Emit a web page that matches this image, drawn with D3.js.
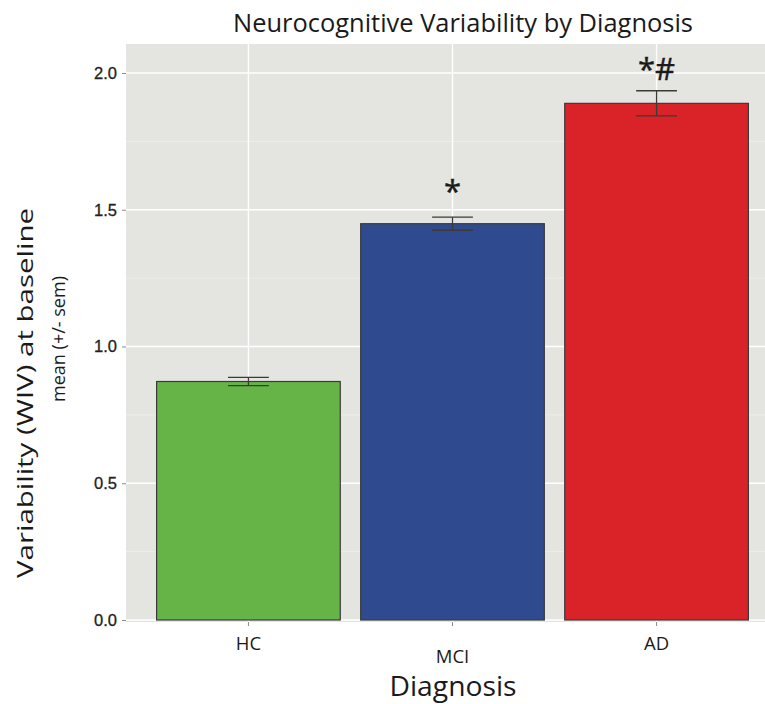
<!DOCTYPE html>
<html>
<head>
<meta charset="utf-8">
<script src="https://cdn.jsdelivr.net/npm/d3@7"></script>
<style>
  body { margin: 0; background: #fff; }
  svg { display: block; }
</style>
</head>
<body>
<svg width="765" height="704"></svg>
<script>
var svg = d3.select('svg')

// data
var groups = ['HC', 'MCI', 'AD']
var means = [0.872, 1.449, 1.889]
var sems = [0.015, 0.024, 0.046]
var marks = ['', '*', '*#']
var markY = [0, 1.53, 1.975]
var yTicks = [0, 0.5, 1, 1.5, 2]
var yMinor = [0.25, 0.75, 1.25, 1.75]
var colors = ['#66b447', '#2f4a8e', '#da2229']

var panel = { left: 126, right: 779, top: 44, bottom: 622 }

var x = d3.scaleBand()
  .domain(groups)
  .range([panel.left, panel.right])
  .paddingInner(0.1)
  .paddingOuter(0.15)

var y = d3.scaleLinear()
  .domain([-0.0073, 2.106])
  .range([panel.bottom, panel.top])

var font = '"Open Sans", sans-serif'

// panel background
svg.append('rect')
  .attr('x', panel.left)
  .attr('y', panel.top)
  .attr('width', panel.right - panel.left)
  .attr('height', panel.bottom - panel.top)
  .attr('fill', '#e4e4e0')

// grid
svg.selectAll('.minor')
  .data(yMinor)
  .enter()
  .append('line')
  .attr('x1', panel.left).attr('x2', panel.right)
  .attr('y1', function (d) { return y(d) })
  .attr('y2', function (d) { return y(d) })
  .style('stroke', '#efefec')
  .style('stroke-width', 0.8)

svg.selectAll('.major')
  .data(yTicks)
  .enter()
  .append('line')
  .attr('x1', panel.left).attr('x2', panel.right)
  .attr('y1', function (d) { return y(d) })
  .attr('y2', function (d) { return y(d) })
  .style('stroke', '#fff')
  .style('stroke-width', 1.4)

svg.selectAll('.vgrid')
  .data(groups)
  .enter()
  .append('line')
  .attr('x1', function (d) { return x(d) + x.bandwidth() / 2 })
  .attr('x2', function (d) { return x(d) + x.bandwidth() / 2 })
  .attr('y1', panel.top).attr('y2', panel.bottom)
  .style('stroke', '#fff')
  .style('stroke-width', 1.4)

// bars
svg.selectAll('.bar')
  .data(groups)
  .enter()
  .append('rect')
  .attr('x', function (d) { return x(d) })
  .attr('width', x.bandwidth())
  .attr('y', function (d, i) { return y(means[i]) })
  .attr('height', function (d, i) { return y(0) - y(means[i]) })
  .style('fill', function (d, i) { return colors[i] })
  .style('stroke', '#3a3a3a')
  .style('stroke-width', 1.2)

// error bars
var capW = x.step() * 0.2
groups.forEach(function (g, i) {
  var cx = x(g) + x.bandwidth() / 2
  var top = y(means[i] + sems[i])
  var bot = y(means[i] - sems[i])
  var eb = svg.append('g').style('stroke', '#3a3a3a').style('stroke-width', 1.3)
  eb.append('line').attr('x1', cx).attr('x2', cx).attr('y1', top).attr('y2', bot)
  eb.append('line').attr('x1', cx - capW / 2).attr('x2', cx + capW / 2).attr('y1', top).attr('y2', top)
  eb.append('line').attr('x1', cx - capW / 2).attr('x2', cx + capW / 2).attr('y1', bot).attr('y2', bot)
})

// significance marks
svg.selectAll('.mark')
  .data(groups)
  .enter()
  .append('text')
  .attr('x', function (d) { return x(d) + x.bandwidth() / 2 })
  .attr('y', function (d, i) { return y(markY[i]) })
  .attr('text-anchor', 'middle')
  .style('font-family', font)
  .style('font-size', '31px')
  .style('fill', '#1a1a1a')
  .style('stroke', '#1a1a1a')
  .style('stroke-width', 0.4)
  .text(function (d, i) { return marks[i] })

// y axis
var yAxis = svg.append('g')
  .attr('transform', 'translate(' + panel.left + ',0)')
  .call(d3.axisLeft(y).tickValues(yTicks).tickFormat(d3.format('.1f')).tickSize(4).tickPadding(5))
yAxis.select('.domain').remove()
yAxis.selectAll('line').style('stroke', '#8a8a8a')
yAxis.selectAll('text')
  .style('font-family', '"Liberation Sans", Arial, sans-serif')
  .style('font-size', '16.5px')
  .style('fill', '#222')
  .style('stroke', '#222')
  .style('stroke-width', 0.3)

// x axis
var xAxis = svg.append('g')
  .attr('transform', 'translate(0,' + panel.bottom + ')')
  .call(d3.axisBottom(x).tickSize(4).tickPadding(6))
xAxis.select('.domain').remove()
xAxis.selectAll('line').style('stroke', '#8a8a8a')
xAxis.selectAll('text')
  .attr('dy', null)
  .attr('y', function (d) { return d === 'MCI' ? 41 : 28 })
  .style('font-family', font)
  .style('font-size', '18.5px')
  .style('fill', '#1a1a1a')

// titles
svg.append('text')
  .attr('x', 463).attr('y', 32)
  .attr('text-anchor', 'middle')
  .attr('textLength', 460).attr('lengthAdjust', 'spacingAndGlyphs')
  .style('font-family', font)
  .style('font-size', '25px')
  .style('fill', '#1a1a1a')
  .text('Neurocognitive Variability by Diagnosis')

svg.append('text')
  .attr('x', 453).attr('y', 696)
  .attr('text-anchor', 'middle')
  .attr('textLength', 127).attr('lengthAdjust', 'spacingAndGlyphs')
  .style('font-family', font)
  .style('font-size', '27px')
  .style('fill', '#1a1a1a')
  .text('Diagnosis')

svg.append('text')
  .attr('transform', 'translate(33,393) rotate(-90)')
  .attr('text-anchor', 'middle')
  .attr('textLength', 370).attr('lengthAdjust', 'spacingAndGlyphs')
  .style('font-family', font)
  .style('font-size', '21px')
  .style('fill', '#1a1a1a')
  .text('Variability (WIV) at baseline')

svg.append('text')
  .attr('transform', 'translate(65,339) rotate(-90)')
  .attr('text-anchor', 'middle')
  .attr('textLength', 126).attr('lengthAdjust', 'spacingAndGlyphs')
  .style('font-family', font)
  .style('font-size', '18.5px')
  .style('fill', '#1a1a1a')
  .text('mean (+/- sem)')
</script>
</body>
</html>
